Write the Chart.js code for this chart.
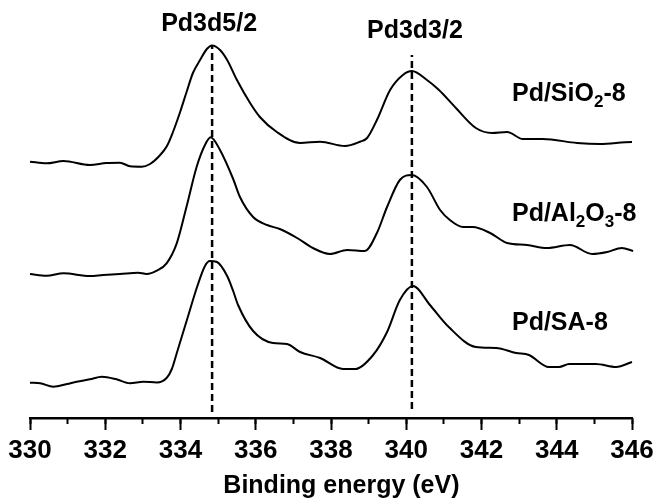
<!DOCTYPE html>
<html>
<head>
<meta charset="utf-8">
<script src="https://cdn.jsdelivr.net/npm/chart.js@4/dist/chart.umd.min.js"></script>
<style>
  body { margin: 0; background: #fff; }
  #wrap { width: 659px; height: 499px; }
</style>
</head>
<body>
<div id="wrap"><canvas id="xps" width="659" height="499"></canvas></div>
<script>
// binding energy (eV) and intensity (arb. units, offset per sample)
const sio2E = [330.00, 330.44, 330.89, 331.59, 332.03, 332.39, 332.66, 332.97, 333.19, 333.46, 333.64, 333.80, 333.99, 334.17, 334.33, 334.52, 334.70, 334.84, 335.05, 335.24, 335.50, 335.85, 336.11, 336.56, 337.18, 337.71, 338.37, 338.77, 338.96, 339.22, 339.57, 339.91, 340.15, 340.55, 340.87, 341.32, 341.85, 342.28, 342.68, 343.10, 343.63, 344.54, 345.15, 346.00, 346.35];
const sio2I = [256.3, 254.7, 257, 253, 255, 255.3, 251.7, 251.3, 254, 263, 272, 286, 306, 327, 345, 358, 369, 372.5, 368, 358, 338, 315, 301, 286, 275, 276.3, 272, 276.3, 280, 298, 328, 343, 347, 338, 328, 310, 290, 285, 286, 279, 279, 275, 274, 276, 276];

const al2o3E = [330.00, 330.44, 330.89, 331.59, 331.94, 332.39, 332.87, 333.10, 333.37, 333.63, 333.90, 334.16, 334.43, 334.65, 334.80, 335.05, 335.40, 335.58, 335.93, 336.30, 336.64, 337.10, 337.52, 337.97, 338.43, 338.90, 339.22, 339.49, 339.83, 340.15, 340.55, 340.90, 341.16, 341.51, 341.77, 342.23, 342.68, 343.21, 343.74, 344.35, 344.94, 345.34, 345.73, 346.03];
const al2o3I = [144, 142.3, 144.7, 142, 143, 144, 145.3, 144, 147.3, 154.7, 174.7, 211.3, 251.3, 273, 280.7, 268, 239, 221, 201, 193, 189, 180, 170, 164, 168, 167, 185, 211, 238, 243, 231, 208, 198, 191, 191, 185, 175, 173, 170, 173, 164, 166, 170, 167];

const saE = [330.00, 330.27, 330.62, 330.98, 331.24, 331.59, 331.91, 332.30, 332.66, 333.01, 333.37, 333.63, 333.77, 333.91, 334.17, 334.44, 334.65, 334.78, 334.97, 335.24, 335.40, 335.53, 335.93, 336.46, 336.83, 337.18, 337.71, 338.32, 338.64, 339.12, 339.49, 339.83, 340.18, 340.63, 341.13, 341.85, 342.39, 342.92, 343.26, 343.79, 344.06, 344.33, 345.04, 345.58, 346.00];
const saI = [35.3, 34.7, 31.3, 34, 36.3, 38.7, 41.3, 38.7, 34.7, 36.3, 35.5, 40, 49, 66, 98, 131, 152, 157, 156, 142, 127, 113, 87, 75, 74, 66, 60, 49, 49, 63, 86, 118, 132, 113, 91, 71, 70, 65, 63, 51, 51, 54, 54, 51, 56];

// peak reference lines
const peakE = [334.84, 340.15];
const peakLow = [6, 9];
const peakHigh = [373, 363];

// text annotations
const peakNames = ['Pd3d5/2', 'Pd3d3/2'];
const sampleNames = [
  [['Pd/SiO', 0], ['2', 1], ['-8', 0]],
  [['Pd/Al', 0], ['2', 1], ['O', 0], ['3', 1], ['-8', 0]],
  [['Pd/SA-8', 0]]
];
const peakNameAt = [[334.76, 394], [340.23, 387]];
const sampleNameAt = [[342.81, 324], [342.81, 204], [342.81, 95]];

const FONT = 'Arial, "Liberation Sans", sans-serif';
const toPts = (xs, ys) => xs.map((x, i) => ({ x: x, y: ys[i] }));

function curve(xs, ys) {
  return {
    data: toPts(xs, ys),
    borderColor: '#000',
    borderWidth: 2,
    pointRadius: 0,
    cubicInterpolationMode: 'monotone',
    clip: false
  };
}

const datasets = [curve(sio2E, sio2I), curve(al2o3E, al2o3I), curve(saE, saI)];
peakE.forEach((e, i) => {
  datasets.push({
    data: [{ x: e, y: peakLow[i] }, { x: e, y: peakHigh[i] }],
    borderColor: '#000',
    borderWidth: 2.5,
    borderDash: [7, 4],
    pointRadius: 0
  });
});

const labelPlugin = {
  id: 'labels',
  afterDatasetsDraw(chart) {
    const ctx = chart.ctx;
    const sx = chart.scales.x, sy = chart.scales.y;
    ctx.save();
    ctx.fillStyle = '#000';
    ctx.textBaseline = 'middle';
    ctx.font = 'bold 25px ' + FONT;
    ctx.textAlign = 'center';
    peakNames.forEach((t, i) => {
      ctx.fillText(t, sx.getPixelForValue(peakNameAt[i][0]), sy.getPixelForValue(peakNameAt[i][1]));
    });
    ctx.textAlign = 'left';
    sampleNames.forEach((parts, i) => {
      let x = sx.getPixelForValue(sampleNameAt[i][0]);
      const y = sy.getPixelForValue(sampleNameAt[i][1]);
      parts.forEach(([t, sub]) => {
        ctx.font = (sub ? 'bold 17px ' : 'bold 25px ') + FONT;
        ctx.fillText(t, x, sub ? y + 8 : y);
        x += ctx.measureText(t).width;
      });
    });
    ctx.restore();
  }
};

Chart.defaults.color = '#000';

new Chart(document.getElementById('xps'), {
  type: 'line',
  data: { datasets: datasets },
  options: {
    responsive: false,
    animation: false,
    layout: { padding: { left: 30, right: 27, top: 0, bottom: 0 } },
    plugins: { legend: { display: false }, tooltip: { enabled: false } },
    scales: {
      x: {
        type: 'linear',
        position: 'bottom',
        min: 330,
        max: 346,
        afterFit: (scale) => { scale.height = 81; },
        ticks: {
          stepSize: 2,
          padding: 5,
          maxRotation: 0,
          font: { family: FONT, size: 26, weight: 'bold' }
        },
        grid: { drawOnChartArea: false, tickLength: 12, tickWidth: 2, color: '#000' },
        border: { display: true, color: '#000', width: 2.5 },
        title: {
          display: true,
          text: '   Binding energy (eV)',
          padding: 0,
          font: { family: FONT, size: 25, weight: 'bold', lineHeight: 1 }
        }
      },
      xm: {
        type: 'linear',
        axis: 'x',
        position: { y: 0 },
        min: 330,
        max: 346,
        ticks: { stepSize: 1, display: false },
        grid: { drawOnChartArea: false, tickLength: 6, tickWidth: 2, color: '#000' },
        border: { display: false }
      },
      y: {
        type: 'linear',
        display: false,
        min: 0,
        max: 418
      }
    }
  },
  plugins: [labelPlugin]
});
</script>
</body>
</html>
